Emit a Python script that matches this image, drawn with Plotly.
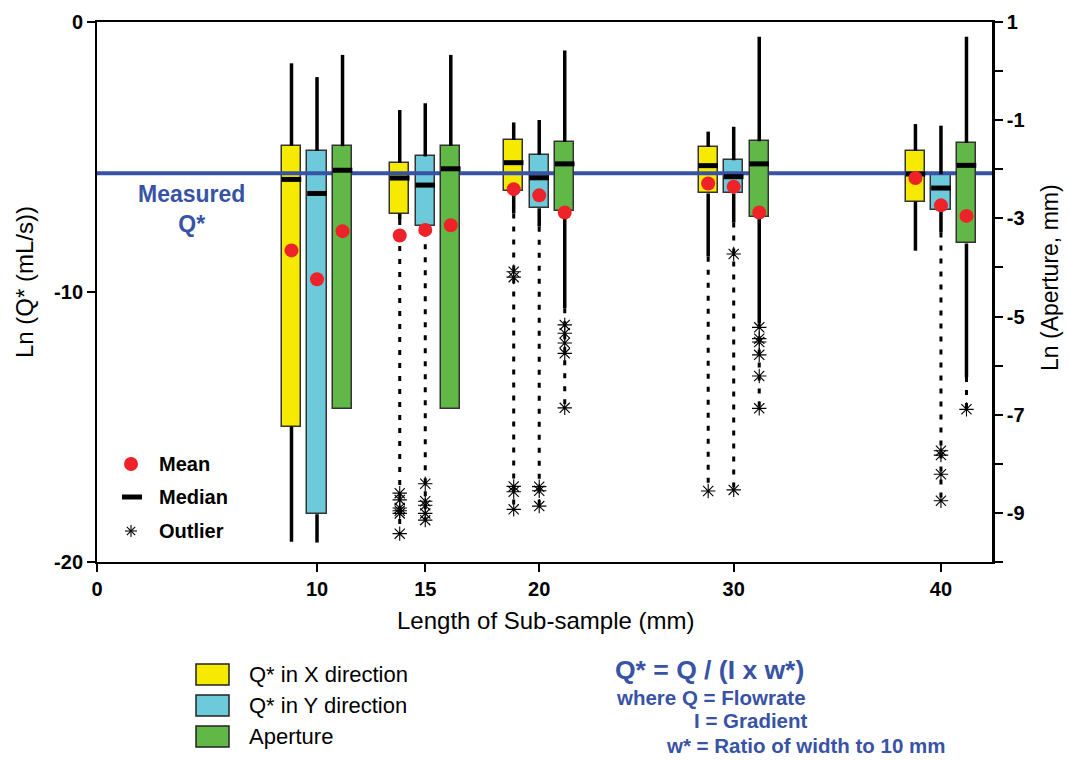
import plotly.graph_objects as go

# ---------------- data ----------------
lengths = [10, 15, 20, 30, 40]
tick_labels = ["0", "10", "15", "20", "30", "40"]
left_tick_vals = [0, -10, -20]
left_tick_labels = ["0", "-10", "-20"]
measured_q = -5.6

# Q* in X direction  (Ln Q*, left axis)
qx_upper = [-1.53, -3.26, -3.72, -4.06, -3.78]
qx_q3 = [-4.58, -5.22, -4.37, -4.63, -4.77]
qx_median = [-5.83, -5.78, -5.21, -5.32, -5.63]
qx_q1 = [-14.99, -7.10, -6.25, -6.35, -6.65]
qx_lower = [-19.25, -7.33, -7.09, -8.69, -8.47]
qx_mean = [-8.46, -7.91, -6.19, -5.98, -5.78]
qx_outliers = [[], [-17.45, -17.7, -18.0, -18.1, -18.2, -18.95],
               [-9.25, -9.45, -17.2, -17.4, -18.05], [-17.37], []]

# Q* in Y direction  (Ln Q*, left axis)
qy_upper = [-2.04, -3.01, -3.63, -3.88, -3.84]
qy_q3 = [-4.77, -4.98, -4.91, -5.12, -5.64]
qy_median = [-6.35, -6.04, -5.77, -5.73, -6.15]
qy_q1 = [-18.23, -7.56, -6.90, -6.35, -6.96]
qy_lower = [-19.28, -7.75, -7.58, -7.43, -7.80]
qy_mean = [-9.53, -7.70, -6.42, -6.10, -6.79]
qy_outliers = [[], [-17.1, -17.75, -17.9, -18.2, -18.45],
               [-17.21, -17.36, -17.93], [-8.59, -17.33],
               [-15.88, -16.04, -16.75, -17.73]]

# Aperture  (Ln aperture, right axis)
ap_upper = [0.33, 0.33, 0.42, 0.70, 0.70]
ap_q3 = [-1.53, -1.52, -1.44, -1.43, -1.46]
ap_median = [-2.02, -1.99, -1.89, -1.89, -1.92]
ap_q1 = [-6.89, -6.89, -2.85, -2.97, -3.51]
ap_lower = [-6.89, -6.89, -4.83, -5.14, -6.23]
ap_mean = [-3.26, -3.14, -2.88, -2.88, -2.95]
ap_outliers = [[], [], [-5.17, -5.34, -5.54, -5.75, -6.86],
               [-5.22, -5.45, -5.52, -5.78, -6.21, -6.87], [-6.89]]

# ---------------- layout helpers ----------------
W, H = 1069, 760
L, R, T, B = 97, 992, 22, 562
group_pos = [10.0, 14.92, 20.1, 28.94, 38.36]   # where each length group sits on the x axis
tick_pos = [0.0] + group_pos
x_end = 40.68
offset = 1.16
box_w = 0.88

YELLOW = "#f6ea00"
CYAN = "#6dcadb"
GREEN = "#62b847"
RED = "#ee2229"
BLUE = "#3853a6"
FONT = "Liberation Sans, Arial, sans-serif"


def pxx(p):
    return (p - L) / (R - L)


def pxy(p):
    return (B - p) / (B - T)


series = [
    ("Q* in X direction", YELLOW, -offset, "y", qx_upper, qx_q3, qx_median, qx_q1, qx_lower, qx_mean, qx_outliers),
    ("Q* in Y direction", CYAN, 0.0, "y", qy_upper, qy_q3, qy_median, qy_q1, qy_lower, qy_mean, qy_outliers),
    ("Aperture", GREEN, offset, "y2", ap_upper, ap_q3, ap_median, ap_q1, ap_lower, ap_mean, ap_outliers),
]

fig = go.Figure()

# measured Q* reference line
fig.add_trace(go.Scatter(x=[0, x_end], y=[measured_q, measured_q], mode="lines",
                         line=dict(color=BLUE, width=4), showlegend=False, hoverinfo="skip"))

for name, color, off, yax, up, q3, med, q1, lo, mean, outs in series:
    xs = [p + off for p in group_pos]
    # solid whiskers
    wx, wy = [], []
    for x, a, b, c, d in zip(xs, up, q3, q1, lo):
        wx += [x, x, None]
        wy += [a, b, None]
        if d < c:
            wx += [x, x, None]
            wy += [c, d, None]
    fig.add_trace(go.Scatter(x=wx, y=wy, mode="lines", yaxis=yax,
                             line=dict(color="black", width=3.5), showlegend=False, hoverinfo="skip"))
    # dotted extension to the outliers
    dx, dy = [], []
    for x, d, o in zip(xs, lo, outs):
        if o:
            dx += [x, x, None]
            dy += [d, min(o), None]
    if dx:
        fig.add_trace(go.Scatter(x=dx, y=dy, mode="lines", yaxis=yax,
                                 line=dict(color="black", width=3, dash="5px,8px"),
                                 showlegend=False, hoverinfo="skip"))
    # boxes
    fig.add_trace(go.Bar(x=xs, y=[b - a for a, b in zip(q1, q3)], base=q1, width=box_w,
                         yaxis=yax, name=name,
                         marker=dict(color=color, line=dict(color="#333333", width=1.5)),
                         showlegend=False, hoverinfo="skip"))
    # medians
    fig.add_trace(go.Scatter(x=xs, y=med, mode="markers", yaxis=yax,
                             marker=dict(symbol="line-ew", size=14, color="black",
                                         line=dict(color="black", width=5)),
                             showlegend=False, hoverinfo="skip"))
    # means
    fig.add_trace(go.Scatter(x=xs, y=mean, mode="markers", yaxis=yax,
                             marker=dict(symbol="circle", size=14, color=RED, line=dict(width=0)),
                             showlegend=False, hoverinfo="skip"))
    # outliers
    ox, oy = [], []
    for x, o in zip(xs, outs):
        for v in o:
            ox.append(x)
            oy.append(v)
    if ox:
        fig.add_trace(go.Scatter(x=ox, y=oy, mode="markers", yaxis=yax,
                                 marker=dict(symbol="asterisk-open", size=12, color="black",
                                             line=dict(color="black", width=1.1)),
                                 showlegend=False, hoverinfo="skip"))

shapes = []
annotations = []

# inner legend (Mean / Median / Outlier)
shapes.append(dict(type="circle", xref="paper", yref="paper", xsizemode="pixel", ysizemode="pixel",
                   xanchor=pxx(131), yanchor=pxy(464), x0=-7, x1=7, y0=-7, y1=7,
                   fillcolor=RED, line=dict(width=0)))
shapes.append(dict(type="line", xref="paper", yref="paper", x0=pxx(122), x1=pxx(142),
                   y0=pxy(497), y1=pxy(497), line=dict(color="black", width=5)))
for (dx0, dy0, dx1, dy1) in [(-6, 0, 6, 0), (0, -6, 0, 6), (-4.2, -4.2, 4.2, 4.2), (-4.2, 4.2, 4.2, -4.2)]:
    shapes.append(dict(type="line", xref="paper", yref="paper", xsizemode="pixel", ysizemode="pixel",
                       xanchor=pxx(131), yanchor=pxy(531), x0=dx0, x1=dx1, y0=dy0, y1=dy1,
                       line=dict(color="black", width=1.1)))
for txt, yy in [("Mean", 464), ("Median", 497), ("Outlier", 531)]:
    annotations.append(dict(text=txt, xref="paper", yref="paper", x=pxx(157), y=pxy(yy),
                            xanchor="left", yanchor="middle", showarrow=False,
                            font=dict(family=FONT, size=20, color="black", weight="bold")))

# bottom legend (boxes)
for name, color, y0, y1 in [("Q* in X direction", YELLOW, 664, 685),
                            ("Q* in Y direction", CYAN, 695, 716),
                            ("Aperture", GREEN, 726, 747)]:
    shapes.append(dict(type="rect", xref="paper", yref="paper", x0=pxx(196), x1=pxx(229),
                       y0=pxy(y1), y1=pxy(y0), fillcolor=color, line=dict(color="#222222", width=1.5)))
    annotations.append(dict(text=name, xref="paper", yref="paper", x=pxx(247), y=pxy((y0 + y1) / 2),
                            xanchor="left", yanchor="middle", showarrow=False,
                            font=dict(family=FONT, size=22, color="black")))

# measured Q* label
annotations.append(dict(text="Measured<br>Q*", xref="paper", yref="paper", x=pxx(191), y=pxy(209),
                        xanchor="center", yanchor="middle", showarrow=False, align="center",
                        font=dict(family=FONT, size=23, color=BLUE, weight="bold")))

# formula text
annotations.append(dict(text="Q* = Q / (I x w*)", xref="paper", yref="paper", x=pxx(613), y=pxy(670),
                        xanchor="left", yanchor="middle", showarrow=False,
                        font=dict(family=FONT, size=26.5, color=BLUE, weight="bold")))
for txt, xx, yy in [("where Q = Flowrate", 614, 697), ("I = Gradient", 692, 720),
                    ("w* = Ratio of width to 10 mm", 664, 745)]:
    annotations.append(dict(text=txt, xref="paper", yref="paper", x=pxx(xx), y=pxy(yy),
                            xanchor="left", yanchor="middle", showarrow=False,
                            font=dict(family=FONT, size=20.5, color=BLUE, weight="bold")))

# axis titles
annotations.append(dict(text="Length of Sub-sample (mm)", xref="paper", yref="paper", x=pxx(545), y=pxy(620),
                        xanchor="center", yanchor="middle", showarrow=False,
                        font=dict(family=FONT, size=24, color="black")))
annotations.append(dict(text="Ln (Q* (mL/s))", xref="paper", yref="paper", x=pxx(24), y=pxy(282),
                        xanchor="center", yanchor="middle", showarrow=False, textangle=-90,
                        font=dict(family=FONT, size=24, color="black")))
annotations.append(dict(text="Ln (Aperture, mm)", xref="paper", yref="paper", x=pxx(1050), y=pxy(278),
                        xanchor="center", yanchor="middle", showarrow=False, textangle=-90,
                        font=dict(family=FONT, size=23, color="black")))

tickfont = dict(family=FONT, size=20, color="black", weight="bold")
right_vals = list(range(-10, 2))
right_text = [str(v) if v % 2 != 0 else "" for v in right_vals]

fig.update_layout(
    width=W, height=H,
    margin=dict(l=L, r=W - R, t=T, b=H - B),
    paper_bgcolor="white", plot_bgcolor="white",
    barmode="overlay", bargap=0,
    showlegend=False,
    shapes=shapes, annotations=annotations,
    xaxis=dict(range=[0, x_end], tickvals=tick_pos, ticktext=tick_labels,
               showline=True, linecolor="black", linewidth=2, mirror=True,
               ticks="outside", ticklen=8, tickwidth=1.5, tickcolor="black",
               showgrid=False, zeroline=False, tickfont=tickfont),
    yaxis=dict(range=[-20, 0], tickvals=left_tick_vals, ticktext=left_tick_labels,
               showline=True, linecolor="black", linewidth=2,
               ticks="outside", ticklen=8, tickwidth=1.5, tickcolor="black",
               showgrid=False, zeroline=False, tickfont=tickfont),
    yaxis2=dict(range=[-10, 1], overlaying="y", side="right", tickvals=right_vals, ticktext=right_text,
                showline=True, linecolor="black", linewidth=2.5,
                ticks="outside", ticklen=8, tickwidth=1.5, tickcolor="black",
                showgrid=False, zeroline=False, tickfont=tickfont),
)

fig.write_html("out.html")
